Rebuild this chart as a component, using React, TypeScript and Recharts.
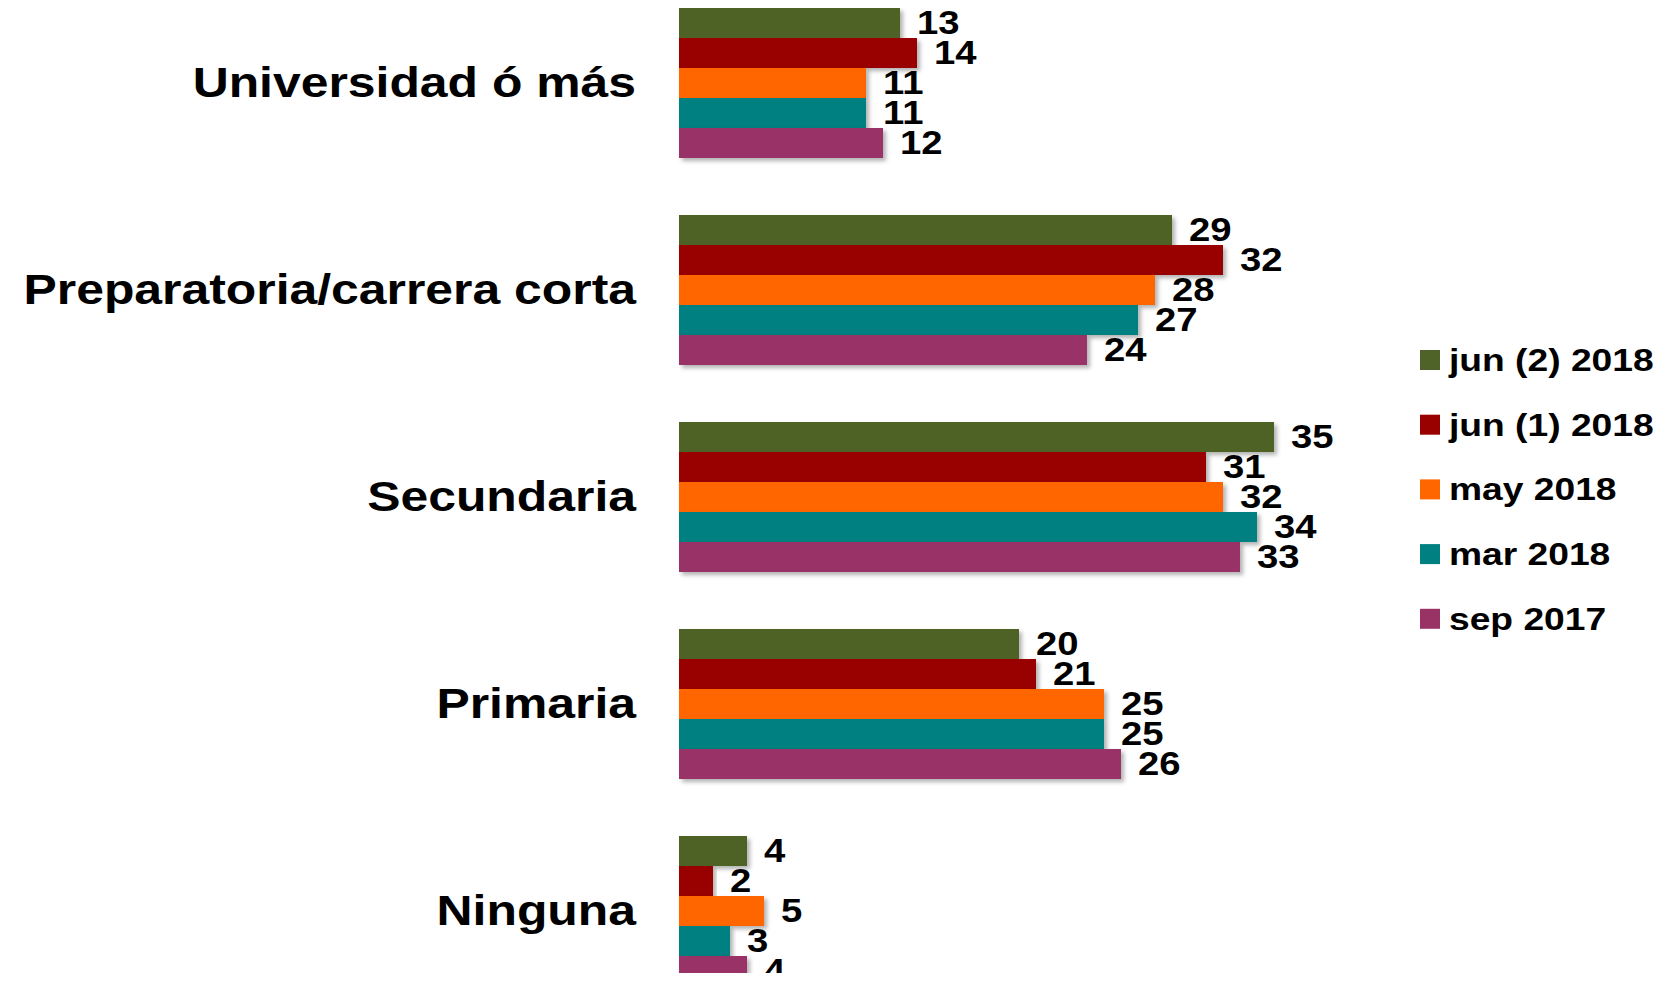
import { BarChart, Bar, XAxis, YAxis, Legend, LabelList } from 'recharts'

const categories = ['Universidad ó más', 'Preparatoria/carrera corta', 'Secundaria', 'Primaria', 'Ninguna']
const seriesNames = ['jun (2) 2018', 'jun (1) 2018', 'may 2018', 'mar 2018', 'sep 2017']
const seriesColors = ['#4F6228', '#990000', '#FF6600', '#008080', '#993366']

const jun2 = [13, 29, 35, 20, 4]
const jun1 = [14, 32, 31, 21, 2]
const may = [11, 28, 32, 25, 5]
const mar = [11, 27, 34, 25, 3]
const sep = [12, 24, 33, 26, 4]

const seriesValues = [jun2, jun1, may, mar, sep]
const keys = ['s0', 's1', 's2', 's3', 's4']

const data = categories.map((name, i) => {
  const row: Record<string, string | number> = { name }
  keys.forEach((k, j) => { row[k] = seriesValues[j][i] })
  return row
})

const FONT = '"Liberation Sans", Arial, sans-serif'

function CategoryTick(props: any) {
  const { y, payload } = props
  return (
    <text
      transform={`translate(636,${y}) scale(1.16,1)`}
      textAnchor="end"
      dominantBaseline="central"
      fontFamily={FONT}
      fontWeight="bold"
      fontSize={43}
      fill="#000"
    >
      {payload.value}
    </text>
  )
}

const renderValue = (props: any) => {
  const { x, y, width, height, value } = props
  const tx = Number(x) + Number(width) + 17
  const ty = Number(y) + Number(height) / 2
  return (
    <text
      transform={`translate(${tx},${ty}) scale(1.16,1)`}
      dominantBaseline="central"
      fontFamily={FONT}
      fontWeight="bold"
      fontSize={33}
      fill="#000"
    >
      {value}
    </text>
  )
}

const renderLegend = () => (
  <svg width={265} height={320}>
    {seriesNames.map((name, i) => {
      const cy = 30 + i * 64.7
      return (
        <g key={name}>
          <rect x={10} y={cy - 10} width={20} height={20} fill={seriesColors[i]} />
          <text
            transform={`translate(39,${cy}) scale(1.2,1)`}
            dominantBaseline="central"
            fontFamily={FONT}
            fontWeight="bold"
            fontSize={31}
            fill="#000"
          >
            {name}
          </text>
        </g>
      )
    })}
  </svg>
)

export default function App() {
  return (
    <div style={{ position: 'relative', width: 1675, height: 981, overflow: 'hidden', margin: -8, background: '#fff' }}>
      <div style={{ position: 'absolute', left: 0, top: -21 }}>
        <BarChart
          width={1675}
          height={1035}
          data={data}
          layout="vertical"
          margin={{ top: 0, right: 316, bottom: 0, left: 0 }}
          barSize={30}
          barGap={0}
        >
          <defs>
            <filter id="shadow" x="-5%" y="-20%" width="115%" height="160%">
              <feDropShadow dx={3} dy={3} stdDeviation={2} floodColor="#000" floodOpacity={0.3} />
            </filter>
          </defs>
          <XAxis type="number" domain={[0, 40]} hide />
          <YAxis
            type="category"
            dataKey="name"
            width={679}
            axisLine={false}
            tickLine={false}
            tick={<CategoryTick />}
            interval={0}
          />
          <Legend
            layout="vertical"
            align="center"
            verticalAlign="middle"
            content={renderLegend}
            wrapperStyle={{ position: 'absolute', left: 1410, top: 351, width: 265, height: 320 }}
          />
          {keys.map((k, i) => (
            <Bar key={k} dataKey={k} name={seriesNames[i]} fill={seriesColors[i]} filter="url(#shadow)" isAnimationActive={false}>
              <LabelList dataKey={k} content={renderValue} />
            </Bar>
          ))}
        </BarChart>
      </div>
    </div>
  )
}
